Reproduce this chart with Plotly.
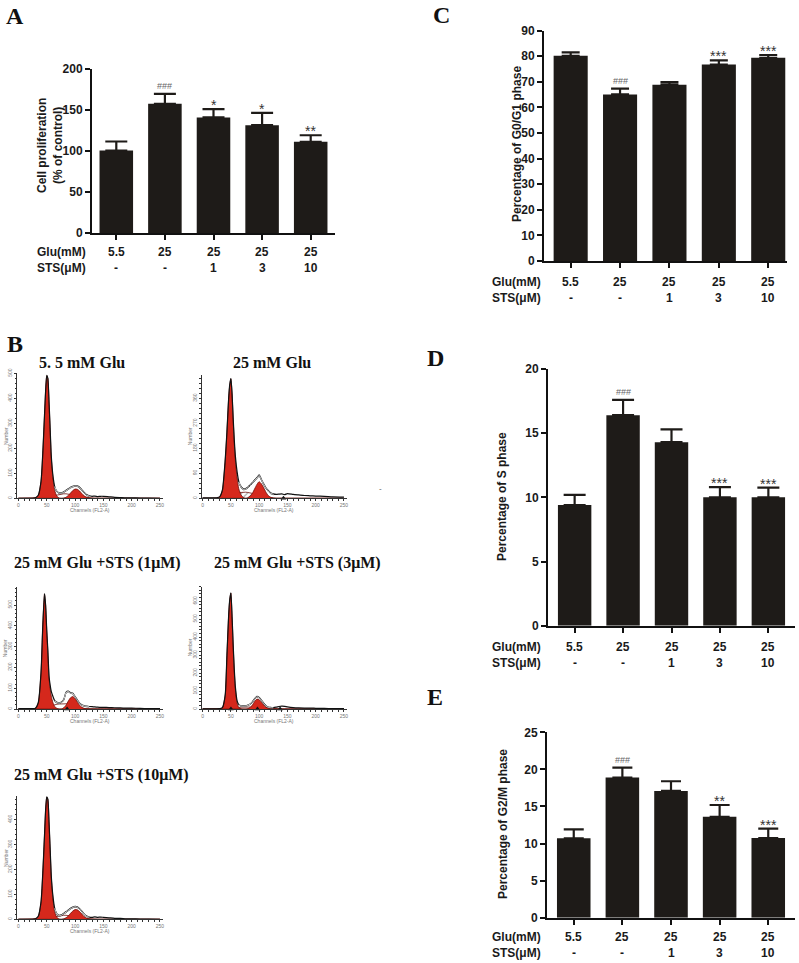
import plotly.graph_objects as go

W, H = 799, 963

# ---------------- bar chart data ----------------
groups = ["5.5 / -", "25 / -", "25 / 1", "25 / 3", "25 / 10"]
glu_labels = ["5.5", "25", "25", "25", "25"]
sts_labels = ["-", "-", "1", "3", "10"]

prolif_mean = [100.6, 157.6, 141.0, 131.5, 111.2]
prolif_sem = [11.0, 12.0, 10.0, 15.0, 8.0]
prolif_sig = ["", "###", "*", "*", "**"]

g1_mean = [80.2, 65.1, 68.9, 76.8, 79.4]
g1_sem = [1.3, 2.3, 1.0, 1.6, 1.1]
g1_sig = ["", "###", "", "***", "***"]

s_mean = [9.4, 16.4, 14.3, 10.0, 10.0]
s_sem = [0.8, 1.2, 1.0, 0.8, 0.75]
s_sig = ["", "###", "", "***", "***"]

g2m_mean = [10.7, 18.9, 17.1, 13.6, 10.75]
g2m_sem = [1.2, 1.35, 1.3, 1.6, 1.25]
g2m_sig = ["", "###", "", "**", "***"]

# ---------------- flow cytometry histograms ----------------
channels = [0, 25, 30, 35, 40, 43, 46, 48, 50, 52, 54, 56, 58, 61, 64, 68, 72, 76, 80, 84, 88, 92,
            96, 100, 104, 108, 112, 116, 120, 125, 130, 135, 140, 145, 150, 160, 170, 180, 190, 200,
            215, 230, 250]

h1_counts = [0, 0, 2, 12, 70, 180, 330, 430, 492, 480, 390, 280, 170, 90, 48, 28, 22, 22, 26, 32, 38, 44,
             48, 51, 50, 44, 34, 24, 15, 10, 8, 9, 7, 8, 8, 6, 4, 3, 2, 2, 1, 1, 0]
h1_g1 = [0, 0, 2, 11, 68, 178, 328, 428, 490, 478, 386, 274, 164, 80, 32, 8, 1] + [0] * 26
h1_s = [0, 0, 0, 0, 0, 1, 3, 4, 5, 6, 7, 8, 9, 11, 13, 15, 16, 17, 18, 18, 17, 16, 15, 13, 11, 9, 7, 5,
        3, 2, 1] + [0] * 12
h1_g2 = [0] * 18 + [1, 4, 11, 21, 31, 37, 36, 29, 19, 10, 4, 1] + [0] * 13

h2_counts = [2, 2, 5, 30, 140, 240, 360, 410, 432, 380, 290, 210, 150, 95, 60, 42, 34, 35, 40, 48, 56, 66,
             74, 84, 68, 52, 38, 28, 20, 16, 14, 15, 16, 13, 17, 14, 12, 10, 9, 8, 7, 5, 4]
h2_g1 = [0, 0, 4, 28, 138, 238, 358, 408, 430, 376, 284, 200, 136, 74, 34, 12, 3] + [0] * 26
h2_s = [0, 0, 0, 0, 1, 2, 4, 6, 8, 10, 12, 14, 16, 18, 20, 21, 22, 22, 21, 20, 18, 16, 14, 12, 10, 8, 6,
        4, 3, 1, 0] + [0] * 12
h2_g2 = [0] * 18 + [2, 8, 18, 34, 50, 60, 52, 38, 22, 10, 4, 1] + [0] * 13

h3_counts = [2, 2, 4, 30, 180, 400, 555, 500, 380, 280, 160, 115, 85, 60, 40, 32, 30, 34, 45, 80, 86, 78,
             76, 60, 44, 28, 20, 16, 14, 12, 11, 10, 9, 8, 8, 7, 6, 5, 4, 4, 3, 2, 2]
h3_g1 = [0, 0, 3, 28, 178, 398, 553, 498, 375, 270, 150, 100, 62, 30, 12, 3, 0] + [0] * 26
h3_s = [0, 0, 0, 0, 1, 3, 5, 6, 8, 9, 11, 13, 15, 18, 20, 23, 24, 25, 26, 25, 24, 22, 18, 14, 10, 7, 4,
        2, 1, 0, 0] + [0] * 12
h3_g2 = [0] * 18 + [6, 18, 38, 54, 60, 50, 34, 18, 8, 3, 1, 0] + [0] * 13

h4_counts = [1, 1, 2, 8, 80, 300, 520, 610, 646, 520, 360, 220, 120, 45, 24, 18, 17, 18, 22, 28, 40, 57,
             70, 64, 50, 32, 18, 11, 9, 8, 10, 14, 16, 15, 12, 8, 6, 5, 5, 4, 3, 2, 2]
h4_g1 = [0, 0, 1, 7, 78, 298, 518, 608, 644, 515, 352, 210, 108, 32, 8, 1, 0] + [0] * 26
h4_s = [0, 0, 0, 0, 0, 0, 0, 1, 2, 3, 4, 5, 5, 7, 8, 10, 11, 12, 12, 12, 11, 10, 9, 8, 6, 4, 3, 2, 1,
        0, 0] + [0] * 12
h4_g2 = [0] * 18 + [2, 8, 22, 42, 55, 52, 38, 22, 10, 4, 1, 0] + [0] * 13

h5_counts = [0, 0, 2, 12, 72, 185, 335, 440, 492, 482, 395, 285, 175, 92, 45, 22, 16, 18, 24, 30, 37, 44,
             49, 52, 50, 43, 33, 22, 14, 9, 8, 10, 8, 9, 8, 6, 4, 4, 2, 2, 1, 1, 0]
h5_g1 = [0, 0, 2, 11, 70, 183, 333, 438, 490, 480, 392, 280, 168, 82, 30, 7, 1] + [0] * 26
h5_s = [0, 0, 0, 0, 0, 1, 2, 3, 4, 5, 6, 7, 8, 9, 11, 13, 14, 15, 16, 16, 15, 14, 13, 11, 9, 7, 6, 4,
        3, 2, 1] + [0] * 12
h5_g2 = [0] * 18 + [2, 6, 13, 24, 33, 39, 38, 31, 21, 11, 5, 1] + [0] * 13

hist_titles = ["5. 5 mM Glu", "25 mM Glu", "25 mM Glu +STS (1μM)", "25 mM Glu +STS (3μM)",
               "25 mM Glu +STS (10μM)"]
hist_markers = [[], [143], [86], [50, 97, 137], []]

# ---------------- helpers (page pixel -> paper fraction) ----------------
def fx(p):
    return p / W


def fy(p):
    return 1 - p / H


BAR = "#1e1b18"
SANS = "Liberation Sans"
SERIF = "Liberation Serif"

fig = go.Figure()
layout = {}
ann = []

bar_panels = [
    dict(mean=prolif_mean, sem=prolif_sem, sig=prolif_sig, xd=(92, 335), yd=(69, 233), yr=(0, 200),
         dtick=50, xr=(-0.5, 4.5), title="Cell proliferation<br>(% of control)", tx=50, ty=146,
         glu_y=252, sts_y=268, lab_x=88, cap=11, letter=("A", 15, 16)),
    dict(mean=g1_mean, sem=g1_sem, sig=g1_sig, xd=(544, 787), yd=(30.7, 261), yr=(0, 90),
         dtick=10, xr=(-0.54, 4.38), title="Percentage of G0/G1 phase", tx=517, ty=144,
         glu_y=282, sts_y=298, lab_x=543, cap=9, letter=("C", 441, 15)),
    dict(mean=s_mean, sem=s_sem, sig=s_sig, xd=(548, 795), yd=(369, 625.7), yr=(0, 20),
         dtick=5, xr=(-0.55, 4.55), title="Percentage of S phase", tx=502, ty=497,
         glu_y=647, sts_y=663, lab_x=543, cap=11, letter=("D", 436, 358)),
    dict(mean=g2m_mean, sem=g2m_sem, sig=g2m_sig, xd=(547, 795), yd=(732.3, 917.7), yr=(0, 25),
         dtick=5, xr=(-0.55, 4.55), title="Percentage of G2/M phase", tx=503, ty=824,
         glu_y=937, sts_y=953, lab_x=543, cap=10, letter=("E", 435, 697)),
]

idx = 0
for p in bar_panels:
    idx += 1
    xa = "x" if idx == 1 else f"x{idx}"
    ya = "y" if idx == 1 else f"y{idx}"
    fig.add_trace(go.Bar(
        x=groups, y=p["mean"], xaxis=xa, yaxis=ya, width=0.69,
        marker=dict(color=BAR, line=dict(width=0)),
        error_y=dict(type="data", array=p["sem"], arrayminus=[0] * len(p["sem"]), symmetric=False,
                     thickness=2.2, width=p["cap"], color=BAR),
        showlegend=False, hoverinfo="skip"))
    layout["xaxis" if idx == 1 else f"xaxis{idx}"] = dict(
        domain=[fx(p["xd"][0]), fx(p["xd"][1])], anchor=ya, type="category",
        categoryorder="array", categoryarray=groups, range=list(p["xr"]), automargin=False,
        showline=True, linecolor="#111", linewidth=2, ticks="outside", ticklen=5, tickwidth=2,
        tickcolor="#111", showticklabels=False, showgrid=False, zeroline=False, fixedrange=True)
    layout["yaxis" if idx == 1 else f"yaxis{idx}"] = dict(
        domain=[fy(p["yd"][1]), fy(p["yd"][0])], anchor=xa, range=list(p["yr"]), automargin=False,
        tickmode="linear", tick0=0, dtick=p["dtick"],
        showline=True, linecolor="#111", linewidth=2, ticks="outside", ticklen=5, tickwidth=2,
        tickcolor="#111", showgrid=False, zeroline=False,
        tickfont=dict(family=SANS, size=12, color="#1a1a1a", weight="bold"))
    ann.append(dict(text=p["title"], x=fx(p["tx"]), y=fy(p["ty"]), xref="paper", yref="paper",
                    textangle=-90, showarrow=False, xanchor="center", yanchor="middle",
                    font=dict(family=SANS, size=12, color="#1a1a1a", weight="bold")))
    for row_text, row_y in (("Glu(mM)", p["glu_y"]), ("STS(μM)", p["sts_y"])):
        ann.append(dict(text=row_text, x=fx(p["lab_x"]), y=fy(row_y), xref="paper", yref="paper",
                        showarrow=False, xanchor="right", yanchor="middle",
                        font=dict(family=SANS, size=12, color="#1a1a1a", weight="bold")))
    for g, gl, sl in zip(groups, glu_labels, sts_labels):
        ann.append(dict(text=gl, x=g, y=fy(p["glu_y"]), xref=xa, yref="paper", showarrow=False,
                        xanchor="center", yanchor="middle",
                        font=dict(family=SANS, size=12, color="#1a1a1a", weight="bold")))
        ann.append(dict(text=sl, x=g, y=fy(p["sts_y"]), xref=xa, yref="paper", showarrow=False,
                        xanchor="center", yanchor="middle",
                        font=dict(family=SANS, size=12, color="#1a1a1a", weight="bold")))
    for g, m, s, sig in zip(groups, p["mean"], p["sem"], p["sig"]):
        if not sig:
            continue
        if sig.startswith("#"):
            ann.append(dict(text=sig, x=g, y=m + s, xref=xa, yref=ya, showarrow=False,
                            xanchor="center", yanchor="bottom", yshift=1,
                            font=dict(family=SANS, size=9, color="#666")))
        else:
            ann.append(dict(text=sig, x=g, y=m + s, xref=xa, yref=ya, showarrow=False,
                            xanchor="center", yanchor="bottom", yshift=-6,
                            font=dict(family=SANS, size=14, color="#333")))
    L, lx, ly = p["letter"]
    ann.append(dict(text=L, x=fx(lx), y=fy(ly), xref="paper", yref="paper", showarrow=False,
                    xanchor="center", yanchor="middle",
                    font=dict(family=SERIF, size=24, color="#111", weight="bold")))

# ---------------- histograms ----------------
hists = [
    dict(c=h1_counts, g1=h1_g1, s=h1_s, g2=h1_g2, xd=(17.3, 162.8), yd=(373.3, 498.3), ymax=500,
         dt=100, mdt=20, tpos=(82, 363), hatch=False),
    dict(c=h2_counts, g1=h2_g1, s=h2_s, g2=h2_g2, xd=(201.5, 346.8), yd=(375, 498.3), ymax=444,
         dt=90, mdt=18, tpos=(272, 363), hatch=True),
    dict(c=h3_counts, g1=h3_g1, s=h3_s, g2=h3_g2, xd=(17.3, 162.8), yd=(586.7, 709), ymax=588,
         dt=100, mdt=20, tpos=(97, 563), hatch=False),
    dict(c=h4_counts, g1=h4_g1, s=h4_s, g2=h4_g2, xd=(201.5, 346.8), yd=(586.7, 709), ymax=680,
         dt=100, mdt=20, tpos=(297, 563), hatch=False),
    dict(c=h5_counts, g1=h5_g1, s=h5_s, g2=h5_g2, xd=(17.3, 162.8), yd=(796, 919.3), ymax=495,
         dt=100, mdt=20, tpos=(102, 775), hatch=False),
]

RED = "#d5281c"
DRED = "#6e0f0a"
for k, hd in enumerate(hists):
    idx += 1
    xa, ya = f"x{idx}", f"y{idx}"
    s_kw = dict(line=dict(color=DRED, width=0.8), mode="lines")
    if hd["hatch"]:
        s_kw.update(fill="tozeroy", fillcolor="white",
                    fillpattern=dict(shape="/", fgcolor="#333", bgcolor="white", size=4, solidity=0.25))
    fig.add_trace(go.Scatter(x=channels, y=hd["s"], xaxis=xa, yaxis=ya, showlegend=False,
                             hoverinfo="skip", **s_kw))
    for comp in (hd["g1"], hd["g2"]):
        fig.add_trace(go.Scatter(x=channels, y=comp, xaxis=xa, yaxis=ya, mode="lines",
                                 fill="tozeroy", fillcolor=RED,
                                 line=dict(color=DRED, width=0.8, shape="spline", smoothing=0.6),
                                 showlegend=False, hoverinfo="skip"))
    fig.add_trace(go.Scatter(x=channels, y=hd["c"], xaxis=xa, yaxis=ya, mode="lines",
                             line=dict(color="#111", width=1.2, shape="spline", smoothing=0.5),
                             showlegend=False, hoverinfo="skip"))
    sub_x = [ch for ch in channels if 62 <= ch <= 125]
    sub_y = [v for ch, v in zip(channels, hd["c"]) if 62 <= ch <= 125]
    fig.add_trace(go.Scatter(x=sub_x, y=[v - 3 for v in sub_y], xaxis=xa, yaxis=ya, mode="lines",
                             line=dict(color="#222", width=1.0, shape="spline", smoothing=0.5),
                             showlegend=False, hoverinfo="skip"))
    fig.add_trace(go.Scatter(x=sub_x, y=[v - 1.5 for v in sub_y], xaxis=xa, yaxis=ya, mode="lines",
                             line=dict(color="white", width=0.8, shape="spline", smoothing=0.5),
                             showlegend=False, hoverinfo="skip"))
    if hist_markers[k]:
        fig.add_trace(go.Scatter(x=hist_markers[k], y=[0] * len(hist_markers[k]), xaxis=xa, yaxis=ya,
                                 mode="markers", cliponaxis=False,
                                 marker=dict(symbol="triangle-up", size=5, color="#111"),
                                 showlegend=False, hoverinfo="skip"))
    layout[f"xaxis{idx}"] = dict(
        domain=[fx(hd["xd"][0]), fx(hd["xd"][1])], anchor=ya, range=[-2, 255], automargin=False,
        tickmode="linear", tick0=0, dtick=50, showline=True, linecolor="#333", linewidth=1,
        ticks="outside", ticklen=2, tickwidth=0.6, tickcolor="#333",
        minor=dict(dtick=10, ticks="outside", ticklen=1.5, tickcolor="#333", tickwidth=0.5),
        tickfont=dict(family=SANS, size=5, color="#777"), showgrid=False, zeroline=False)
    layout[f"yaxis{idx}"] = dict(
        domain=[fy(hd["yd"][1]), fy(hd["yd"][0])], anchor=xa, range=[0, hd["ymax"]], automargin=False,
        tickmode="linear", tick0=0, dtick=hd["dt"], showline=True, linecolor="#333", linewidth=1,
        ticks="outside", ticklen=2, tickwidth=0.6, tickcolor="#333", tickangle=-90,
        minor=dict(dtick=hd["mdt"], ticks="outside", ticklen=1.5, tickcolor="#333", tickwidth=0.5),
        tickfont=dict(family=SANS, size=5, color="#777"), showgrid=False, zeroline=False)
    ann.append(dict(text="Channels (FL2-A)", x=fx((hd["xd"][0] + hd["xd"][1]) / 2), y=fy(hd["yd"][1] + 12),
                    xref="paper", yref="paper", showarrow=False, xanchor="center", yanchor="middle",
                    font=dict(family=SANS, size=5, color="#777")))
    ann.append(dict(text="Number", x=fx(hd["xd"][0] - 12), y=fy((hd["yd"][0] + hd["yd"][1]) / 2),
                    xref="paper", yref="paper", showarrow=False, textangle=-90,
                    xanchor="center", yanchor="middle",
                    font=dict(family=SANS, size=5, color="#777")))
    ann.append(dict(text=hist_titles[k], x=fx(hd["tpos"][0]), y=fy(hd["tpos"][1]), xref="paper",
                    yref="paper", showarrow=False, xanchor="center", yanchor="middle",
                    font=dict(family=SERIF, size=16, color="#111", weight="bold")))

ann.append(dict(text="B", x=fx(15), y=fy(344), xref="paper", yref="paper", showarrow=False,
                xanchor="center", yanchor="middle",
                font=dict(family=SERIF, size=24, color="#111", weight="bold")))
ann.append(dict(text="-", x=fx(380), y=fy(489), xref="paper", yref="paper", showarrow=False,
                font=dict(family=SANS, size=8, color="#555")))

fig.update_layout(width=W, height=H, margin=dict(l=0, r=0, t=0, b=0, autoexpand=False),
                  paper_bgcolor="white", plot_bgcolor="white", showlegend=False, annotations=ann,
                  bargap=0.3, **layout)
fig.write_html("out.html", config={"displayModeBar": False},
               post_script="document.body.style.margin='0px';")
